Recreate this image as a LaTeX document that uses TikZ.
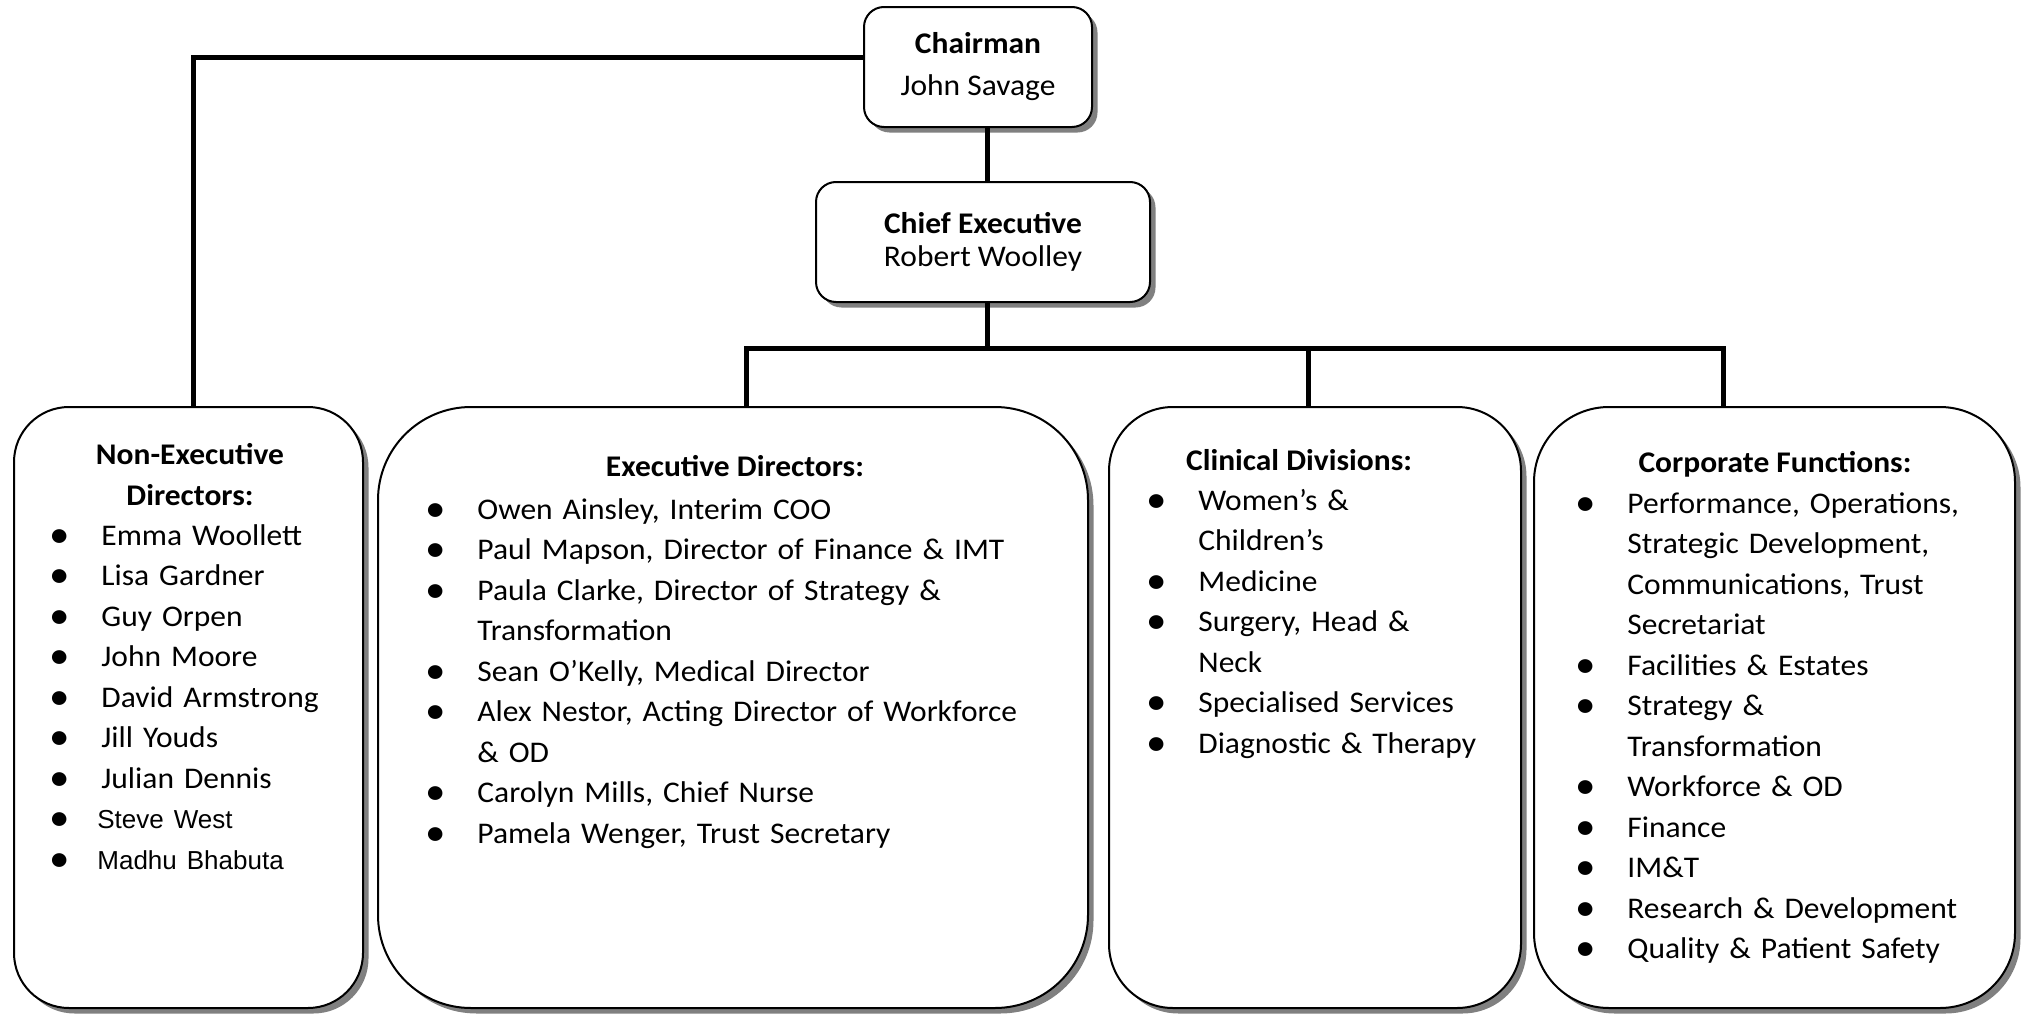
\documentclass[tikz,border=0pt]{standalone}
\usepackage{fontspec}
\usepackage{graphicx}
\setmainfont{Carlito}[FakeStretch=1.05]
\newfontfamily\arialfont{Liberation Sans}
\usetikzlibrary{shadows}

\newcommand{\orgfont}{\fontsize{15}{20.25}\selectfont}
\newcommand{\orgbullet}{\hspace{-2.5pt}\raisebox{-1.2pt}{\scalebox{1.3}{\textbullet}}}
\newcommand{\orgitem}[2][23.5pt]{\noindent\hangindent=#1\hangafter=1\makebox[#1][l]{\orgbullet}#2\par}

\tikzset{
  orgshadow/.style={drop shadow={shadow xshift=2.75pt, shadow yshift=-2.75pt, fill=gray, opacity=1}},
  topbox/.style={draw, line width=1pt, fill=white, rounded corners=10pt, orgshadow, align=center, inner sep=0pt},
  groupbox/.style={draw, line width=1pt, fill=white, rounded corners=#1, orgshadow, inner sep=0pt, minimum height=300.5pt},
  link/.style={line width=2.5pt},
  head/.style={anchor=base, inner sep=0pt, align=center, font=\orgfont\bfseries},
  itemlist/.style={anchor=base west, inner sep=0pt, text width=#1, align=left, font=\orgfont},
}

\begin{document}
\begin{tikzpicture}[x=0.5pt, y=-0.5pt]
    \useasboundingbox (0,0) rectangle (2031,1017);

    % top of the chart
    \node[topbox, minimum width=114pt, minimum height=60pt, font=\fontsize{15}{21}\selectfont] (chair) at (978,67)
        {\textbf{Chairman}\\John Savage};
    \node[topbox, minimum width=167pt, minimum height=60pt, font=\fontsize{15}{16.5}\selectfont] (ceo) at (983,242)
        {\textbf{Chief Executive}\\Robert Woolley};

    % the four groups
    \node[groupbox=27.5pt, minimum width=174.5pt] (ned) at (188.5,707.5) {};
    \node[groupbox=46.5pt, minimum width=355pt] (exec) at (733,707.5) {};
    \node[groupbox=32pt, minimum width=206pt] (clin) at (1315,707.5) {};
    \node[groupbox=37.5pt, minimum width=240.5pt] (corp) at (1774.5,707.5) {};

    \draw[link] ([xshift=2pt]ceo.north) -- ([xshift=2pt]ceo.north |- chair.south);
    \draw[link] ([yshift=5pt]chair.west) -| ([xshift=2.25pt]ned.north);
    \draw[link] ([xshift=2pt]ceo.south) -- ++(0,-22.5pt) coordinate (bus);
    \draw[link] ([xshift=6.5pt]exec.north) |- (bus) -| ([xshift=-25.75pt]corp.north);
    \draw[link] ([xshift=-3.5pt]clin.north) -- ([xshift=-3.5pt]clin.north |- bus);

    \node[head] (nedhead) at (190,505) {Non-Executive\\Directors:};
    \node[itemlist=160pt] (nedlist) at (54,545) {%
        \orgitem{Emma Woollett}
        \orgitem{Lisa Gardner}
        \orgitem{Guy Orpen}
        \orgitem{John Moore}
        \orgitem{David Armstrong}
        \orgitem{Jill Youds}
        \orgitem{Julian Dennis}
        \orgitem[21.5pt]{{\arialfont\fontsize{13}{20.25}\selectfont Steve West}}
        \orgitem[21.5pt]{{\arialfont\fontsize{13}{20.25}\selectfont Madhu Bhabuta}}};

    \node[head] (exechead) at (735,476) {Executive Directors:};
    \node[itemlist=320pt] (execlist) at (430,519) {%
        \orgitem{Owen Ainsley, Interim COO}
        \orgitem{Paul Mapson, Director of Finance \& IMT}
        \orgitem{Paula Clarke, Director of Strategy \&\newline Transformation}
        \orgitem{Sean O’Kelly, Medical Director}
        \orgitem{Alex Nestor, Acting Director of Workforce\newline \& OD}
        \orgitem{Carolyn Mills, Chief Nurse}
        \orgitem{Pamela Wenger, Trust Secretary}};

    \node[head] (clinhead) at (1299,470) {Clinical Divisions:};
    \node[itemlist=180pt] (clinlist) at (1151,510) {%
        \orgitem{Women’s \&\newline Children’s}
        \orgitem{Medicine}
        \orgitem{Surgery, Head \&\newline Neck}
        \orgitem{Specialised Services}
        \orgitem{Diagnostic \& Therapy}};

    \node[head] (corphead) at (1775,472) {Corporate Functions:};
    \node[itemlist=215pt] (corplist) at (1580,513) {%
        \orgitem{Performance, Operations,\newline Strategic Development,\newline Communications, Trust\newline Secretariat}
        \orgitem{Facilities \& Estates}
        \orgitem{Strategy \&\newline Transformation}
        \orgitem{Workforce \& OD}
        \orgitem{Finance}
        \orgitem{IM\&T}
        \orgitem{Research \& Development}
        \orgitem{Quality \& Patient Safety}};
\end{tikzpicture}
\end{document}
